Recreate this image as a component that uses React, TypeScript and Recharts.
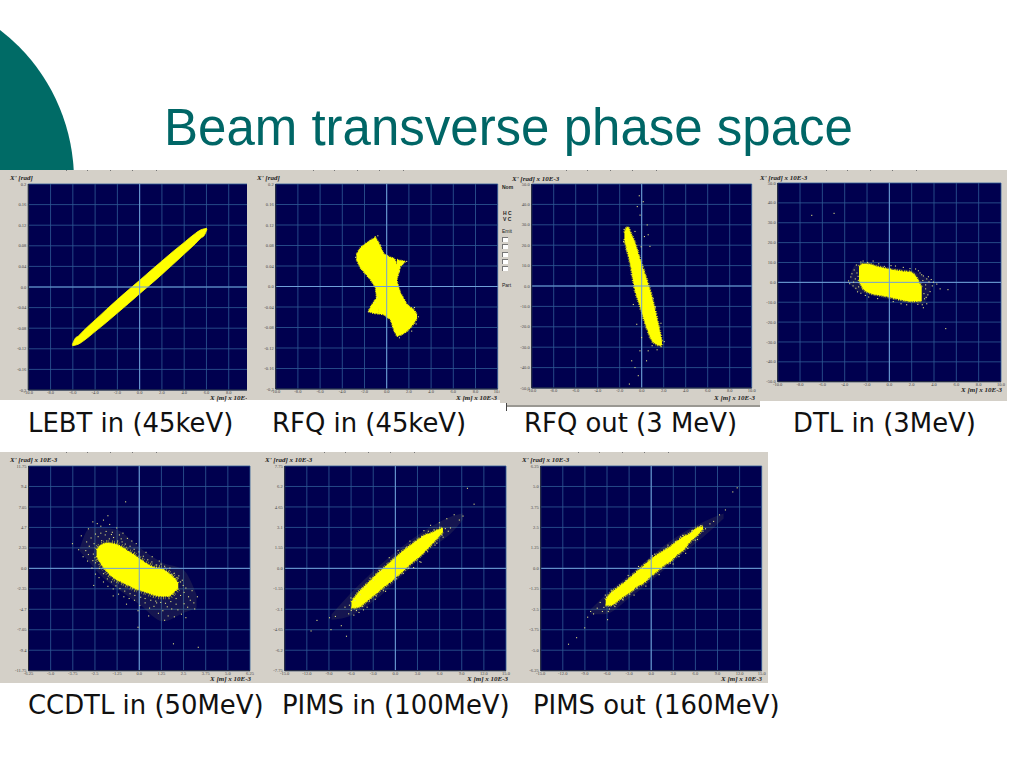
import React from 'react';
import { ComposedChart, Area, Scatter, XAxis, YAxis, CartesianGrid, ReferenceLine } from 'recharts';

type Row = number[];

const lebtTicksY = [-0.2, -0.16, -0.12, -0.08, -0.04, 0, 0.04, 0.08, 0.12, 0.16, 0.2];
const xTicks10 = [-10, -8, -6, -4, -2, 0, 2, 4, 6, 8, 10];
const yTicks50 = [-50, -40, -30, -20, -10, 0, 10, 20, 30, 40, 50];
const ccdtlTicksX = [-6.25, -5, -3.75, -2.5, -1.25, 0, 1.25, 2.5, 3.75, 5, 6.25];
const ccdtlTicksY = [-11.75, -9.4, -7.05, -4.7, -2.35, 0, 2.35, 4.7, 7.05, 9.4, 11.75];
const xTicks15 = [-15, -12, -9, -6, -3, 0, 3, 6, 9, 12, 15];
const pimsInTicksY = [-7.75, -6.2, -4.65, -3.1, -1.55, 0, 1.55, 3.1, 4.65, 6.2, 7.75];
const pimsOutTicksY = [-6.25, -5, -3.75, -2.5, -1.25, 0, 1.25, 2.5, 3.75, 5, 6.25];

// [x, lower, upper]
const lebtCore: Row[] = [
  [-6.05, -0.114, -0.112], [-5.8, -0.113, -0.1], [-5.5, -0.111, -0.095], [-5, -0.104, -0.084], [-4, -0.0865, -0.064],
  [-3, -0.069, -0.044], [-2, -0.0505, -0.0245], [-1, -0.032, -0.0055], [0, -0.013, 0.013],
  [1, 0.0055, 0.032], [2, 0.0245, 0.0505], [3, 0.044, 0.069], [4, 0.064, 0.0865],
  [5, 0.084, 0.104], [5.5, 0.095, 0.111], [5.8, 0.1, 0.113], [6.05, 0.112, 0.114],
];

const rfqInMain: Row[] = [
  [-2.73, 0.0527, 0.0625], [-2.37, 0.0364, 0.0755], [-1.92, 0.0247, 0.0833], [-1.47, 0.0137, 0.0898],
  [-1.02, -0.0013, 0.0963], [-0.72, -0.0534, 0.0852], [-0.27, -0.0547, 0.0638], [0.33, -0.0644, 0.0573],
  [0.69, -0.0872, 0.0547], [0.93, -0.0969, 0.0429],
];
const rfqInUpperSpur: Row[] = [[0.93, 0.0137, 0.0527], [1.23, 0.0397, 0.0507], [1.68, 0.0481, 0.0494]];
const rfqInLowerRight: Row[] = [
  [0.93, -0.0969, 0.0104], [1.23, -0.095, -0.0124], [1.53, -0.0917, -0.0234], [1.83, -0.0872, -0.0351],
  [2.13, -0.0807, -0.0403], [2.43, -0.0729, -0.0449], [2.73, -0.0625, -0.0547],
];
const rfqInLowerSpur: Row[] = [[-1.62, -0.0494, -0.0468], [-1.32, -0.0514, -0.0351], [-1.02, -0.0527, -0.0254], [-0.72, -0.0534, -0.0169]];

const rfqOutCore: Row[] = [
  [-1.57, 22.9, 26.2], [-1.27, 16.4, 28.9], [-0.96, 9.1, 25.4], [-0.66, -0.65, 21.8], [-0.21, -8.8, 14],
  [0.39, -19.3, 4.2], [0.93, -26.7, -5.5], [1.36, -28.6, -15.3], [1.75, -29.3, -25], [1.84, -28.5, -27.5],
];

const dtlHalo: Row[] = [[-3.5, -1, 4], [-3, -4, 9], [-2, -6, 10], [0, -8.5, 7.5], [2, -10.5, 6], [3, -11, 3.5], [3.7, -3, 1]];
const dtlCore: Row[] = [
  [-2.72, 1.3, 8], [-2.34, -3.2, 9.2], [-1.74, -5.3, 9], [-1.14, -6.2, 8], [-0.54, -6.7, 7.2], [0.06, -7.5, 6.5],
  [0.66, -8.3, 6], [1.26, -9, 5.5], [1.86, -9.5, 5.2], [2.46, -9.5, 2.2], [2.9, -9.2, -2.8],
];

const ccdtlHalo: Row[] = [
  [-3.35, 1.95, 2.33], [-2.78, 0.61, 4.62], [-2.03, -1.1, 4.62], [-1.28, -2.25, 4.43], [0.04, -4.17, 2.33],
  [1.35, -6.08, 0.61], [2.48, -5.12, -0.15], [3.23, -4.55, -3.02],
];
const ccdtlCore: Row[] = [
  [-2.41, 1.38, 2.14], [-2.12, 0.42, 2.71], [-1.75, -0.53, 2.91], [-1.37, -1.18, 2.8], [-1, -1.57, 2.45],
  [-0.62, -1.95, 1.95], [-0.24, -2.33, 1.49], [0.13, -2.56, 0.92], [0.51, -2.83, 0.42], [0.88, -3.1, 0.11],
  [1.26, -3.21, -0.04], [1.64, -3.21, -0.53], [2.01, -2.64, -1.18], [2.2, -2.26, -1.68],
];

const pimsInHalo: Row[] = [
  [-8.66, -3.9, -3.5], [-6.86, -3.75, -2.37], [-3.25, -2.62, -0.35], [1.26, -0.35, 1.79],
  [4.87, 1.54, 3.17], [7.58, 2.67, 3.93], [9.16, 3.68, 4.18],
];
const pimsInCore: Row[] = [
  [-5.95, -3, -2.54], [-5.05, -2.95, -1.86], [-4.15, -2.62, -1.36], [-3.25, -2.19, -0.86], [-2.35, -1.79, -0.35],
  [-1.44, -1.36, 0.08], [-0.54, -0.98, 0.53], [0.36, -0.53, 0.98], [1.26, -0.1, 1.41], [2.17, 0.4, 1.79],
  [3.07, 0.78, 2.17], [3.97, 1.28, 2.5], [4.87, 1.79, 2.67], [5.77, 2.34, 2.92], [6.45, 2.75, 3.05],
];

const pimsOutHalo: Row[] = [
  [-8.21, -2.8, -2.5], [-6.4, -2.8, -1.7], [-2.8, -1.75, -0.35], [0.81, -0.45, 1.05],
  [4.42, 0.95, 2.2], [7.13, 1.95, 2.85], [9.83, 3.05, 3.35],
];
const pimsOutCore: Row[] = [
  [-6.18, -2.26, -1.91], [-5.5, -2.26, -1.51], [-4.6, -2.01, -1.2], [-3.7, -1.71, -0.89], [-2.8, -1.44, -0.55],
  [-1.89, -1.1, -0.18], [-0.99, -0.89, 0.18], [-0.09, -0.49, 0.53], [0.81, -0.18, 0.83], [1.71, 0.18, 1.08],
  [2.62, 0.43, 1.34], [3.52, 0.83, 1.65], [4.42, 1.14, 1.95], [5.32, 1.65, 2.15], [6.22, 2.01, 2.46], [7.04, 2.42, 2.56],
];

// single stray particles, [x, y]
const rfqInStray: Row[] = [
  [-2.85, 0.058], [-2.5, 0.07], [-1.6, 0.09], [-0.85, 0.1], [-0.6, 0.082], [1.75, 0.05], [1.4, 0.047], [1.1, 0.03],
  [2.8, -0.058], [2.6, -0.072], [2.2, -0.086], [1.1, -0.099], [-1.7, -0.048], [-1.1, -0.03], [-0.9, -0.02], [2.45, -0.04],
];
const rfqOutStray: Row[] = [
  [0.09, 41.6], [0.45, 30.2], [-0.45, 39.2], [-0.2, 35], [-0.66, 27], [0.54, 25.4], [0.7, 19.7], [-0.27, 44.5],
  [-0.96, -36.4], [-0.66, -39.7], [-1.17, -47.8], [-0.21, -31.5], [0.39, -36.4], [-0.36, -43.7], [-0.06, -25], [-0.5, -18.5],
  [-0.81, -8.8], [0.54, -31.5], [-1.7, 22], [-1.45, 18], [1, -6], [1.2, -10], [1.7, -18], [2, -27], [-1.65, 28], [-1, 6],
  [1.35, -31], [0.9, -29], [0.2, 24.5], [-0.1, 19.5],
];
const dtlStray: Row[] = [
  [-3.5, 3], [-3.2, 6.5], [-3, 9], [-3.3, -1.5], [-2.9, -4.5], [-2.6, 10.5], [3.2, -3], [3.5, 0.5], [4.2, -0.6], [4.5, -3],
  [3.3, -10.5], [3, -12.5], [2.9, -11], [3.7, 1.7], [-2.2, -6.3], [5.2, -3.4], [5, -23], [-7, 34], [-5, 35], [3.1, -8],
  [-1.5, 11], [0.5, 8.5], [2.3, 7], [3, 3.5], [1, -10.5], [-3.7, 1], [-3.1, 2], [-2.8, -2], [-2.95, 5], [3.4, -6],
  [3.8, -1.5], [2.7, 5], [3.3, 2], [-2.4, 11], [1.5, -11], [2.5, -10.8], [-0.5, 8.3], [1.8, 7.2],
  [-3.4, 4.6], [-3.05, -2.7], [-2.85, 3.3], [-3.25, 0.4], [-2.6, -5.2], [-3.6, -0.4], [3.05, -5.4], [3.25, -7.3], [3.6, -4.4], [3.45, 3.1],
  [2.85, 4.1], [2.55, 6.1], [2.95, 1.2], [3.2, -1], [3.9, 0.4], [-2, 10.3], [-1, 9.6], [0.1, 8.7], [1.2, 7.8], [0.3, -9.4], [-1.1, -7.9], [-1.9, -7.1],
];
const ccdtlStray: Row[] = [
  [-3.3, 3.8], [-3, 3.1], [-2.9, 4.6], [-2.65, 5.4], [-2.5, 4], [-2.4, 5.2], [-2.2, 4.9], [-2.05, 5.6], [-1.9, 4.3], [-1.7, 5.1],
  [-1.55, 4.2], [-1.3, 4.7], [-1.15, 3.9], [-0.95, 4.1], [-0.7, 3.5], [-0.45, 3.2], [-0.2, 2.9], [-3.45, 2.2], [-3.2, 1.4], [-2.95, 0.9],
  [-2.85, 2.6], [-2.7, 0.1], [-2.5, -0.6], [-2.3, -1], [-2.05, -1.5], [-1.8, -2], [-1.5, -2.3], [-1.2, -2.9], [-0.9, -3.2], [-0.6, -3.4],
  [-0.3, -3.6], [0, -4.2], [0.3, -3.9], [0.55, -4.5], [0.8, -4.3], [1.05, -5.1], [1.3, -4.8], [1.4, -5.9], [1.6, -5.4], [1.8, -4.6],
  [1.95, -5.5], [2.15, -4.7], [2.35, -5.2], [2.5, -4], [2.7, -4.4], [2.85, -3.6], [3.1, -4.6], [3.25, -3.2], [2.95, -2.5], [2.6, -2.2],
  [2.4, -1.3], [2.2, -0.8], [1.95, -0.5], [1.7, 0.1], [1.4, 0.3], [1.1, 0.9], [0.7, 1.4], [0.35, 1.9], [-2.6, -1.9], [-0.1, -6.7],
  [1.9, -8.6], [-1.8, 6.1], [-3.8, 2.9], [-0.8, 7.7], [3.3, -9],
  [-2.75, 3.55], [-2.58, 2.9], [-2.35, 3.7], [-2.15, 3.25], [-1.95, 3.9], [-1.72, 3.45], [-1.48, 3.6], [-1.25, 3.2], [-1.05, 3.45], [-0.82, 2.85],
  [-0.55, 2.6], [-0.32, 2.25], [-0.05, 1.95], [0.2, 1.45], [0.45, 1.05], [0.68, 0.8], [0.95, 0.45], [1.2, 0.55], [1.5, -0.35], [1.78, -0.6],
  [-2.62, 1.7], [-2.5, 0.7], [-2.28, 0.05], [-2.05, -0.55], [-1.83, -1.15], [-1.6, -1.5], [-1.35, -1.95], [-1.12, -2.25], [-0.85, -2.55], [-0.55, -2.85],
  [-0.28, -3.05], [0.05, -3.25], [0.3, -3.4], [0.62, -3.6], [0.9, -3.7], [1.18, -3.85], [1.45, -3.95], [1.75, -3.75], [2.05, -3.4], [2.3, -3.05],
  [2.5, -2.7], [2.45, -1.9], [2.3, -1.5], [2.15, -1.05], [0.5, -5.4], [0.95, -3.9], [1.55, -4.35], [2.05, -4.05], [-3.05, 2.1], [-2.9, 1.65],
  [-2.65, 0.95], [-2.2, 4.1], [-1.6, 3.95], [-1, 3.1], [-0.1, -4.8], [-0.75, -4.05], [-1.5, -3.1], [3.05, -3.9], [2.75, -3.2], [2.6, -5.6],
];
const pimsInStray: Row[] = [
  [-9, -3.7], [-8.2, -3.6], [-8.8, -4.6], [-7.4, -4.3], [-6.9, -2.9], [-6.4, -3.4], [-6.1, -2.2], [-5.7, -3.5], [-5, -3.3], [-4.6, -1.5],
  [-3.9, -2.9], [-3.5, -0.7], [-2.8, -2.3], [-2.3, -0.1], [-1.4, -1.7], [-0.9, 0.85], [0.3, 1.4], [1, -0.35], [1.9, 2.1], [2.4, 0.1],
  [3.4, 0.5], [3.8, 2.9], [4.7, 3.3], [5.3, 1.8], [5.9, 3.5], [6.4, 2.4], [6.9, 3.8], [7.4, 3.1], [7.9, 4.1], [8.6, 3.7],
  [9.1, 4], [9.7, 6.1], [10.6, 4.9], [-10.7, -3.9], [-11.5, -4.7], [-6.7, -5.1], [6.7, 3.05], [-4.4, -3.1],
  [-6.3, -2.75], [-6.05, -3.15], [-5.55, -2.4], [-5.35, -3.15], [-4.85, -1.95], [-4.5, -2.85], [-4.05, -1.35], [-3.6, -2.45], [-3.05, -0.85], [-2.65, -2.05],
  [-1.95, -0.15], [-1.7, -1.65], [-0.4, 0.75], [0.1, -0.75], [1.45, 1.65], [1.7, 0.05], [2.6, 2.05], [3.25, 0.55], [3.6, 2.45], [4.3, 1.3],
  [4.4, 2.85], [5.15, 2.95], [5.55, 1.95], [5.95, 3.15], [6.25, 2.55], [7.1, 2.85],
];
const pimsOutStray: Row[] = [
  [-8.3, -2.6], [-7.9, -2.75], [-7.4, -2.4], [-7, -2.05], [-6.7, -2.6], [-6.3, -1.6], [-5.9, -2.6], [-5.5, -1.3], [-5, -2.3], [-4.6, -1.1],
  [-3.9, -1.9], [-3.2, -0.4], [-2.4, -1.6], [-1.8, 0.15], [-0.8, -1.05], [0.1, 0.8], [1, -0.35], [2.2, 1.45], [2.9, 0.3], [3.9, 1.95],
  [4.6, 0.95], [5.5, 2.35], [6.2, 1.8], [6.7, 2.65], [7.3, 2.45], [7.9, 2.75], [8.4, 2.9], [9.2, 3.3], [10, 3.6], [11, 4.7],
  [11.6, 4.95], [-9.1, -3.6], [-10.2, -4.2], [-11.3, -4.6], [-6, -3.1], [-8.7, -2.95],
  [-6.5, -2.35], [-6.15, -1.75], [-5.75, -2.45], [-5.25, -1.45], [-4.85, -2.15], [-4.35, -0.98], [-3.95, -1.85], [-3.45, -0.72], [-3, -1.55], [-2.5, -0.38],
  [-2, -1.2], [-1.3, 0.05], [-0.5, -0.65], [0.4, 0.9], [1.3, 0.02], [1.9, 1.2], [2.5, 0.35], [3.2, 1.65], [3.7, 0.75], [4.2, 2.05],
  [4.9, 1.25], [5.4, 2.25], [5.9, 1.75], [6.45, 2.55], [6.95, 2.3],
];

const captions: [string, number, number][] = [
  ['LEBT in (45keV)', 28, 408], ['RFQ in (45keV)', 272, 408], ['RFQ out (3 MeV)', 524, 408], ['DTL in (3MeV)', 793, 408],
  ['CCDTL in (50MeV)', 28, 690], ['PIMS in (100MeV)', 282, 690], ['PIMS out (160MeV)', 533, 690],
];

const sideTexts: [string, number, number, boolean][] = [
  ['Nom', 502, 184, true], ['H C', 503, 210, true], ['V C', 503, 216, true], ['Emit', 502, 228, false], ['Part', 502, 282, false],
];
const checkboxTops = [237, 244, 252, 259, 266];
const topMarks = [66, 87, 110, 132, 156];

const fmt = (v: number) => (Number.isInteger(v) ? v.toFixed(1) : String(v));

const serifLabel: React.CSSProperties = {
  position: 'absolute', fontFamily: '"Liberation Serif", serif', fontWeight: 700, fontStyle: 'italic',
  fontSize: 7, lineHeight: '8px', color: '#222', whiteSpace: 'nowrap',
};

const PhasePanel = ({ box, plot, xTicks, yTicks, bands, stray, yLabel, yLabelX, yLabelY, xLabelRight, xLabelY }: any) => {
  const [left, top, width, height] = box;
  const [pl, pt, pr, pb] = plot;
  const data = bands.flatMap((b: any, i: number) =>
    b.rows.map((r: Row) => ({ x: r[0], [`b${i}`]: [r[1], r[2]] }))
  );
  const points = (stray || []).map((p: Row) => ({ x: p[0], y: p[1] }));
  return (
    <div style={{ position: 'absolute', left, top, width, height, background: '#d4d0c8' }}>
      {topMarks.map((m) => (
        <div key={m} style={{ position: 'absolute', left: m, top: 0, width: 1, height: 1, background: '#777' }} />
      ))}
      <ComposedChart
        width={width}
        height={height}
        data={data}
        margin={{ left: pl - left - 24, top: pt - top, right: left + width - pr, bottom: top + height - pb - 10 }}
      >
        <CartesianGrid stroke="#2f5a96" strokeWidth={0.8} fill="#00004f" fillOpacity={1} />
        <XAxis
          type="number"
          dataKey="x"
          domain={[xTicks[0], xTicks[xTicks.length - 1]]}
          ticks={xTicks}
          interval={0}
          allowDataOverflow
          height={10}
          tickFormatter={fmt}
          tick={{ fontSize: 4.5, fill: '#444' }}
          tickLine={false}
          tickSize={0}
          tickMargin={1}
          axisLine={{ stroke: '#223' }}
        />
        <YAxis
          type="number"
          dataKey="y"
          domain={[yTicks[0], yTicks[yTicks.length - 1]]}
          ticks={yTicks}
          interval={0}
          allowDataOverflow
          width={24}
          tickFormatter={fmt}
          tick={{ fontSize: 4.5, fill: '#444' }}
          tickLine={false}
          tickSize={0}
          tickMargin={2}
          axisLine={{ stroke: '#223' }}
        />
        <ReferenceLine x={0} stroke="#6f9fd8" strokeWidth={1} />
        <ReferenceLine y={0} stroke="#6f9fd8" strokeWidth={1} />
        {bands.map((b: any, i: number) =>
          b.ring ? (
            <Area
              key={`ring${i}`}
              type="monotone"
              dataKey={`b${i}`}
              connectNulls
              fill="none"
              stroke="#a8a83c"
              strokeWidth={b.ring}
              strokeDasharray="0.6 1.9 0.9 1.1 0.5 2.7 0.7 1.4"
              dot={false}
              activeDot={false}
              isAnimationActive={false}
            />
          ) : null
        )}
        {bands.map((b: any, i: number) => (
          <Area
            key={i}
            type={b.sharp ? 'linear' : 'monotone'}
            dataKey={`b${i}`}
            connectNulls
            fill={b.halo ? '#a0a060' : '#ffff00'}
            fillOpacity={b.halo ? 0.13 : 1}
            stroke={b.halo ? 'none' : '#ffff00'}
            strokeWidth={b.clean ? 0.8 : 1.6}
            strokeDasharray={b.clean ? undefined : '0.9 0.7 0.6 1.3 1.1 0.8'}
            dot={false}
            activeDot={false}
            isAnimationActive={false}
          />
        ))}
        {points.length > 0 && (
          <Scatter
            data={points}
            isAnimationActive={false}
            shape={(p: any) => <rect x={p.cx} y={p.cy} width={1.1} height={1.1} fill="#e0e080" />}
          />
        )}
      </ComposedChart>
      <div style={{ ...serifLabel, left: yLabelX - left, top: yLabelY - top - 5 }}>{yLabel}</div>
      <div style={{ ...serifLabel, right: left + width - xLabelRight, top: xLabelY - top - 4 }}>X [m] x 10E-3</div>
    </div>
  );
};

export default function App() {
  return (
    <div style={{ position: 'absolute', left: 0, top: 0, width: 1024, height: 768, overflow: 'hidden', background: '#fff' }}>
      <div style={{ position: 'absolute', left: -304, top: -9, width: 378, height: 378, borderRadius: '50%', background: '#006b66' }} />
      <div style={{ position: 'absolute', left: 164, top: 98, fontFamily: '"Liberation Sans"', fontSize: 51, lineHeight: '60px', color: '#006666', whiteSpace: 'nowrap' }}>
        Beam transverse phase space
      </div>

      <PhasePanel box={[0, 170, 262, 230]} plot={[28.3, 184, 251, 390]} xTicks={xTicks10} yTicks={lebtTicksY}
        bands={[{ rows: lebtCore, clean: true }]} yLabel="X' [rad]" yLabelX={10} yLabelY={179} xLabelRight={251} xLabelY={398} />
      <PhasePanel box={[247, 170, 253, 230]} plot={[275.7, 184, 497.7, 389]} xTicks={xTicks10} yTicks={lebtTicksY}
        bands={[{ rows: rfqInMain, sharp: true }, { rows: rfqInUpperSpur, sharp: true }, { rows: rfqInLowerRight, sharp: true }, { rows: rfqInLowerSpur, sharp: true }]} stray={rfqInStray}
        yLabel="X' [rad]" yLabelX={257} yLabelY={179} xLabelRight={497} xLabelY={398} />
      <PhasePanel box={[500, 170, 260, 236]} plot={[531.7, 184, 751.7, 388]} xTicks={xTicks10} yTicks={yTicks50}
        bands={[{ rows: rfqOutCore, ring: 3 }]} stray={rfqOutStray} yLabel="X' [rad] x 10E-3" yLabelX={512} yLabelY={180} xLabelRight={755} xLabelY={398} />
      <PhasePanel box={[760, 170, 247, 231]} plot={[777.7, 183, 1001, 381.7]} xTicks={xTicks10} yTicks={yTicks50}
        bands={[{ rows: dtlHalo, halo: true }, { rows: dtlCore, ring: 3 }]} stray={dtlStray} yLabel="X' [rad] x 10E-3" yLabelX={760} yLabelY={179} xLabelRight={1002} xLabelY={390} />

      {sideTexts.map(([t, x, y, bold]) => (
        <div key={t} style={{ position: 'absolute', left: x, top: y, fontFamily: '"Liberation Sans"', fontSize: 5, lineHeight: '6px', fontWeight: bold ? 700 : 400, color: '#222' }}>{t}</div>
      ))}
      {checkboxTops.map((y) => (
        <div key={y} style={{ position: 'absolute', left: 502, top: y, width: 5, height: 4, background: '#fff', borderTop: '1px solid #777', borderLeft: '1px solid #777' }} />
      ))}
      <div style={{ position: 'absolute', left: 500, top: 403, width: 6, height: 8, background: '#fff', borderRight: '1px solid #444' }} />
      <div style={{ position: 'absolute', left: 507, top: 405, width: 253, height: 2, background: '#9a9892' }} />

      <PhasePanel box={[0, 452, 258, 231]} plot={[28.5, 466, 250, 670.7]} xTicks={ccdtlTicksX} yTicks={ccdtlTicksY}
        bands={[{ rows: ccdtlHalo, halo: true }, { rows: ccdtlCore, ring: 6 }]} stray={ccdtlStray} yLabel="X' [rad] x 10E-3" yLabelX={10} yLabelY={461} xLabelRight={251} xLabelY={679} />
      <PhasePanel box={[258, 452, 254, 231]} plot={[284.7, 466, 506, 670.7]} xTicks={xTicks15} yTicks={pimsInTicksY}
        bands={[{ rows: pimsInHalo, halo: true }, { rows: pimsInCore, ring: 3.5 }]} stray={pimsInStray} yLabel="X' [rad] x 10E-3" yLabelX={265} yLabelY={461} xLabelRight={508} xLabelY={679} />
      <PhasePanel box={[512, 452, 256, 231]} plot={[540.7, 466, 761.7, 670.7]} xTicks={xTicks15} yTicks={pimsOutTicksY}
        bands={[{ rows: pimsOutHalo, halo: true }, { rows: pimsOutCore, ring: 3.5 }]} stray={pimsOutStray} yLabel="X' [rad] x 10E-3" yLabelX={522} yLabelY={461} xLabelRight={762} xLabelY={679} />

      {captions.map(([t, x, y]) => (
        <div key={t} style={{ position: 'absolute', left: x, top: y, fontFamily: '"DejaVu Sans"', fontSize: 25.9, lineHeight: '30px', color: '#111', whiteSpace: 'nowrap' }}>{t}</div>
      ))}
    </div>
  );
}
